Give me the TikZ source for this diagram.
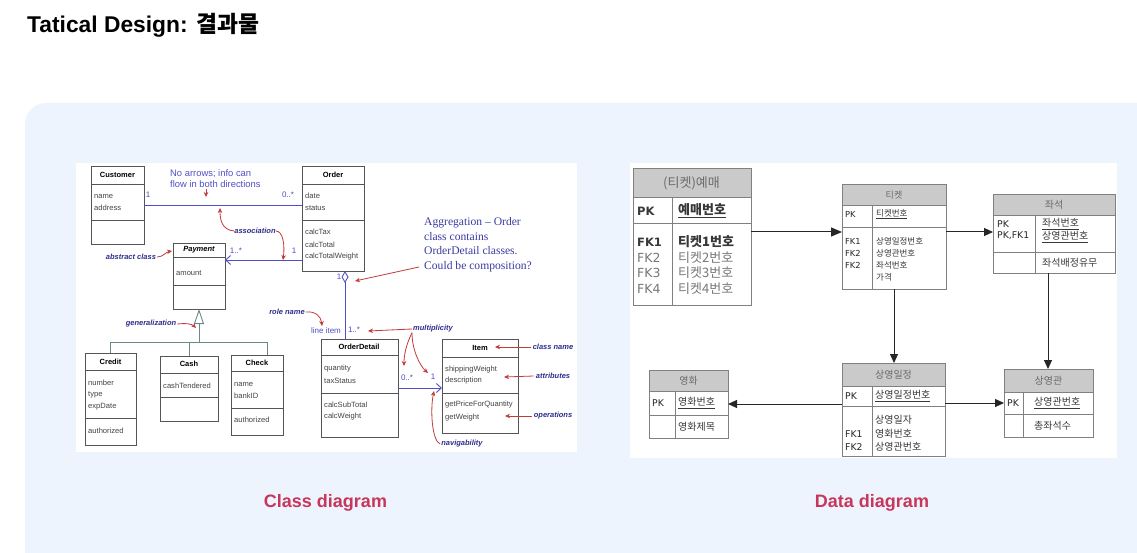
\documentclass[tikz,border=0pt]{standalone}
\usepackage{fontspec}
\setmainfont{Liberation Sans}
\newfontfamily\kr{Noto Sans CJK KR}
\newfontfamily\djv{DejaVu Sans}
\newfontfamily\serifam{Liberation Serif}
\usetikzlibrary{arrows.meta,calc}
\definecolor{panel}{HTML}{EEF4FE}
\definecolor{umlblue}{HTML}{5050C4}
\definecolor{lblue}{HTML}{2E2E8C}
\definecolor{agblue}{HTML}{3A3AA0}
\definecolor{ared}{HTML}{C23A3A}
\definecolor{capred}{HTML}{C8365A}
\definecolor{gencol}{HTML}{6A8A88}
\definecolor{hdr}{HTML}{CACACA}
\definecolor{erline}{HTML}{808080}
\definecolor{boxgray}{HTML}{555555}
\definecolor{txtgray}{HTML}{444444}
\definecolor{ertxt}{HTML}{383838}
\definecolor{erfade}{HTML}{777777}
\definecolor{hdrtxt}{HTML}{6A6A6A}
\newcommand\umlbox[7]{%
  \pgfmathsetmacro\bw{#4-#2}\pgfmathsetmacro\bh{#5-#3}%
  \node[classbox, minimum width=\bw pt, minimum height=\bh pt, anchor=north west] (#1) at (#2,#3) {};
  \draw[classline] (#2,#6) -- (#4,#6) (#2,#7) -- (#4,#7);
}
\newcommand\ertab[8]{%
  \pgfmathsetmacro\bw{#4-#2}\pgfmathsetmacro\bh{#5-#3}%
  \fill[hdr] (#2,#3) rectangle (#4,#6);
  \draw[erl] (#2,#6) -- (#4,#6) (#2,#7) -- (#4,#7) (#8,#6) -- (#8,#5);
  \node[erbox, minimum width=\bw pt, minimum height=\bh pt, anchor=north west] (#1) at (#2,#3) {};
}
\begin{document}
\begin{tikzpicture}[x=1pt,y=-1pt,
  classbox/.style={draw=boxgray, line width=0.8pt, inner sep=0pt, outer sep=0pt},
  classline/.style={draw=boxgray, line width=0.8pt},
  cname/.style={font=\fontsize{7.5}{8}\selectfont\bfseries, inner sep=0pt},
  attr/.style={font=\fontsize{7.6}{8}\selectfont, text=txtgray, anchor=west, inner sep=0pt},
  mult/.style={font=\fontsize{8}{9}\selectfont, text=umlblue, inner sep=0pt},
  note/.style={font=\fontsize{7.5}{8}\selectfont\bfseries\itshape, text=lblue, inner sep=0pt},
  assoc/.style={draw=umlblue, line width=0.9pt},
  opentip/.style={-{Straight Barb[length=5pt,width=9pt,line width=0.9pt]}},
  redarrow/.style={draw=ared, line width=0.8pt, -{Stealth[length=5pt,width=4.5pt]}},
  genline/.style={draw=gencol, line width=0.9pt},
  erbox/.style={draw=erline, line width=0.9pt, inner sep=0pt, outer sep=0pt},
  erl/.style={draw=erline, line width=0.9pt},
  erarrow/.style={draw=black!85, line width=1pt, -{Triangle[length=9pt,width=8pt]}},
  hdrt/.style={font=\kr\fontsize{10}{12}\selectfont, text=hdrtxt, inner sep=0pt},
  ert/.style={font=\kr\fontsize{10}{12}\selectfont, text=ertxt, anchor=west, inner sep=0pt},
  ers/.style={font=\kr\fontsize{8.5}{10}\selectfont, text=ertxt, anchor=west, inner sep=0pt},
  erb/.style={font=\kr\fontsize{13}{15}\selectfont, text=ertxt, anchor=west, inner sep=0pt},
  keyt/.style={font=\djv\fontsize{9.3}{11}\selectfont, text=black!85, anchor=west, inner sep=0pt},
  keys/.style={font=\djv\fontsize{8.3}{10}\selectfont, text=black!85, anchor=west, inner sep=0pt},
  keyb/.style={font=\djv\fontsize{12.5}{15}\selectfont, text=ertxt, anchor=west, inner sep=0pt},
  captext/.style={font=\fontsize{18}{20}\selectfont\bfseries, text=capred, inner sep=0pt}
]
\clip (0,0) rectangle (1137,553);
\fill[white] (0,0) rectangle (1137,553);
\fill[panel, rounded corners=21pt] (25,103) rectangle (1200,640);
\fill[white] (76,163) rectangle (577,452);
\fill[white] (630,163) rectangle (1117,458);

% title
\node[anchor=base west, inner sep=0pt, font=\fontsize{22.8}{26}\selectfont\bfseries] (title) at (27,33) {Tatical Design: {\kr\bfseries 결과물}};

% ===== class diagram =====
\umlbox{cust}{91}{166}{144}{244}{184}{220}
\umlbox{ord}{302}{166}{364}{271}{184}{220}
\umlbox{pay}{173}{243}{225}{309}{257}{285}
\umlbox{cred}{85}{353}{136}{445}{370}{418}
\umlbox{cash}{160}{356}{218}{421}{373}{397}
\umlbox{chk}{231}{355}{283}{435}{371}{408}
\umlbox{od}{321}{339}{398}{437}{355}{393}
\umlbox{item}{442}{339}{518}{433}{357}{393}

\node[cname] (custn) at (117.5,175) {Customer};
\node[attr] (c1) at (94,196) {name};
\node[attr] (c2) at (94,208) {address};
\node[cname] (ordn) at (333,175) {Order};
\node[attr] (o1) at (305,196) {date};
\node[attr] (o2) at (305,208) {status};
\node[attr] (o3) at (305,232) {calcTax};
\node[attr] (o4) at (305,245) {calcTotal};
\node[attr] (o5) at (305,257) {calcTotalWeight};
\node[cname, font=\fontsize{7.5}{8}\selectfont\bfseries\itshape] (payn) at (199,250) {Payment};
\node[attr] (p1) at (176,273) {amount};
\node[cname] (credn) at (110.5,361.5) {Credit};
\node[attr] (cr1) at (88,383) {number};
\node[attr] (cr2) at (88,395) {type};
\node[attr] (cr3) at (88,407) {expDate};
\node[attr] (cr4) at (88,431) {authorized};
\node[cname] (cashn) at (189,364) {Cash};
\node[attr] (ca1) at (163,386) {cashTendered};
\node[cname] (chkn) at (257,363) {Check};
\node[attr] (ch1) at (234,384) {name};
\node[attr] (ch2) at (234,396) {bankID};
\node[attr] (ch3) at (234,420) {authorized};
\node[cname] (odn) at (359,347) {OrderDetail};
\node[attr] (d1) at (324,369) {quantity};
\node[attr] (d2) at (324,381) {taxStatus};
\node[attr] (d3) at (324,405) {calcSubTotal};
\node[attr] (d4) at (324,417) {calcWeight};
\node[cname] (itemn) at (480,348) {Item};
\node[attr] (i1) at (445,370) {shippingWeight};
\node[attr] (i2) at (445,381) {description};
\node[attr] (i3) at (445,405) {getPriceForQuantity};
\node[attr] (i4) at (445,418) {getWeight};

% associations
\draw[assoc] (cust.east) -- (cust.east -| ord.west);
\coordinate (op) at ([yshift=11pt]ord.south west);
\draw[assoc, opentip] (op) -- (op -| pay.east);
\coordinate (agtop) at ([xshift=12pt]ord.south);
\draw[assoc, {Diamond[open,length=12pt,width=7pt,line width=0.9pt]}-] (agtop) -- (agtop |- od.north);
\draw[assoc, opentip] (od.east) -- (od.east -| item.west);
% generalization
\coordinate (gj) at (199,342);
\coordinate (gr) at (267,342);
\draw[genline, -{Triangle[open,length=15pt,width=10pt,line width=0.9pt]}] (gj) -- (pay.south);
\draw[genline] (cred.north) |- (gr) -- (gr |- chk.north);
\draw[genline] (cash.north) -- (cash.north |- gj);

% multiplicities
\node[mult] (m1) at (148,195) {1};
\node[mult] (m2) at (288,195) {0..*};
\node[mult] (m3) at (236,251) {1..*};
\node[mult] (m4) at (294,251) {1};
\node[mult] (m5) at (339,277) {1};
\node[mult] (m6) at (354,330) {1..*};
\node[mult] (m7) at (326,331) {line item};
\node[mult] (m8) at (407,378) {0..*};
\node[mult] (m9) at (433,377) {1};

% notes
\node[anchor=north west, align=left, inner sep=0pt, text=umlblue, font=\fontsize{9.4}{11}\selectfont] (noarr) at (170,169) {No arrows; info can\\flow in both directions};
\node[note] (nassoc) at (255,231) {association};
\node[note] (nabs) at (131,257) {abstract class};
\node[note] (ngen) at (151,324) {generalization};
\node[note] (nrole) at (287,312) {role name};
\node[note] (nmult) at (433,329) {multiplicity};
\node[note] (ncls) at (553,347) {class name};
\node[note] (natt) at (553,376) {attributes};
\node[note] (nops) at (553,416) {operations};
\node[note] (nnav) at (462,444) {navigability};
\node[anchor=north west, align=left, inner sep=0pt, text=agblue, font=\serifam\fontsize{11.6}{14.8}\selectfont] (nagg) at (424,217) {Aggregation – Order\\class contains\\OrderDetail classes.\\Could be composition?};

% red annotation arrows
\coordinate (t1) at (206,197);
\draw[redarrow] (206,189) -- (t1);
\coordinate (t2) at (220,208);
\draw[redarrow] (nassoc.west) .. controls (222,230) and (220,220) .. (t2);
\coordinate (t3) at (283,260);
\draw[redarrow] (nassoc.east) .. controls (283,231) and (285,245) .. (t3);
\coordinate (t4) at (172,251);
\draw[redarrow] ([xshift=1pt]nabs.east) .. controls (163,257) and (166,252) .. (t4);
\coordinate (t5) at (355,281);
\draw[redarrow] (419,267) -- (t5);
\coordinate (t6) at (196,328);
\draw[redarrow] ([xshift=1pt]ngen.east) .. controls (186,323) and (192,324) .. (t6);
\coordinate (t7) at (322,326);
\draw[redarrow] ([xshift=1pt]nrole.east) .. controls (315,311) and (321,316) .. (t7);
\coordinate (t8) at (368,331);
\draw[redarrow] ([xshift=-1pt]nmult.west) -- (t8);
\coordinate (t9) at (404,366);
\draw[redarrow] ([xshift=-1pt]nmult.south west) .. controls (406,345) and (404,355) .. (t9);
\coordinate (t10) at (428,373);
\draw[redarrow] ([xshift=-1pt]nmult.south west) .. controls (412,350) and (420,366) .. (t10);
\coordinate (t11) at (495,347);
\draw[redarrow] ([xshift=-2pt]ncls.west) -- (t11);
\coordinate (t12) at (504,377);
\draw[redarrow] ([xshift=-2pt]natt.west) -- (t12);
\coordinate (t13) at (505,416);
\draw[redarrow] ([xshift=-2pt]nops.west) -- (t13);
\coordinate (t14) at (434,391);
\draw[redarrow] ([xshift=-1pt]nnav.west) .. controls (432,441) and (430,410) .. (t14);

% ===== data diagram =====
\ertab{ye}{633}{168}{751}{305}{197}{223}{672}
\ertab{tk}{842}{184}{946}{289}{205}{227}{872}
\ertab{js}{993}{194}{1115}{273}{215}{252}{1035}
\ertab{sy}{842}{363}{945}{456}{386}{406}{872}
\ertab{sg}{1004}{369}{1093}{437}{392}{414}{1023}
\ertab{yh}{649}{370}{728}{438}{391}{415}{675}

% 예매
\node[hdrt, font=\kr\fontsize{13}{15}\selectfont] (yeh) at (691.5,183) {(티켓)예매};
\node[keyb, font=\djv\bfseries\fontsize{11.5}{15}\selectfont] (yepk) at (637,211) {PK};
\node[erb, font=\kr\fontsize{13}{15}\selectfont\bfseries] (yepkv) at (678,211) {\underline{예매번호}};
\node[keyb, font=\djv\bfseries\fontsize{11.5}{15}\selectfont] (yef1) at (637,242) {FK1};
\node[erb, font=\kr\fontsize{13}{15}\selectfont\bfseries] (yef1v) at (678,242) {티켓1번호};
\node[keyb, text=erfade] (yef2) at (637,257.5) {FK2};
\node[erb, text=erfade] (yef2v) at (678,257.5) {티켓2번호};
\node[keyb, text=erfade] (yef3) at (637,273) {FK3};
\node[erb, text=erfade] (yef3v) at (678,273) {티켓3번호};
\node[keyb, text=erfade] (yef4) at (637,289) {FK4};
\node[erb, text=erfade] (yef4v) at (678,289) {티켓4번호};

% 티켓
\node[hdrt, font=\kr\fontsize{9}{11}\selectfont] (tkh) at (894,195) {티켓};
\node[keys] (tkpk) at (845,214) {PK};
\node[ers] (tkpkv) at (876,214) {\underline{티켓번호}};
\node[keys] (tkf1) at (845,241) {FK1};
\node[keys] (tkf2) at (845,253) {FK2};
\node[keys] (tkf3) at (845,265) {FK2};
\node[ers] (tkv1) at (876,241) {상영일정번호};
\node[ers] (tkv2) at (876,253) {상영관번호};
\node[ers] (tkv3) at (876,265) {좌석번호};
\node[ers] (tkv4) at (876,277) {가격};

% 좌석
\node[hdrt] (jsh) at (1054,204.5) {좌석};
\node[keyt] (jspk) at (997,224) {PK};
\node[keyt] (jspk2) at (997,236) {PK,FK1};
\node[ert] (jsv1) at (1042,224) {\underline{좌석번호}};
\node[ert] (jsv2) at (1042,237) {\underline{상영관번호}};
\node[ert] (jsv3) at (1042,263) {좌석배정유무};

% 상영일정
\node[hdrt] (syh) at (893.5,374.5) {상영일정};
\node[keyt] (sypk) at (845,396) {PK};
\node[ert] (sypkv) at (875,396) {\underline{상영일정번호}};
\node[ert] (syv1) at (875,420) {상영일자};
\node[keyt] (syf1) at (845,434) {FK1};
\node[ert] (syv2) at (875,434) {영화번호};
\node[keyt] (syf2) at (845,447) {FK2};
\node[ert] (syv3) at (875,447) {상영관번호};

% 상영관
\node[hdrt] (sgh) at (1048.5,380.5) {상영관};
\node[keyt] (sgpk) at (1007,403) {PK};
\node[ert] (sgpkv) at (1034,403) {\underline{상영관번호}};
\node[ert] (sgv1) at (1034,426) {총좌석수};

% 영화
\node[hdrt] (yhh) at (688.5,380.5) {영화};
\node[keyt] (yhpk) at (652,403) {PK};
\node[ert] (yhpkv) at (678,403) {\underline{영화번호}};
\node[ert] (yhv1) at (678,427) {영화제목};

% ER connectors
\coordinate (e1) at ([yshift=4.5pt]ye.east);
\draw[erarrow, -{Triangle[length=11pt,width=9pt]}] (e1) -- (e1 -| tk.west);
\coordinate (e2) at ([yshift=4.5pt]tk.east);
\draw[erarrow] (e2) -- (e2 -| js.west);
\coordinate (e3) at ([xshift=-6pt]js.south);
\draw[erarrow] (e3) -- (e3 |- sg.north);
\draw[erarrow] (tk.south) -- (tk.south |- sy.north);
\draw[erarrow] (sg.west -| sy.east) -- (sg.west);
\draw[erarrow] (yh.east -| sy.west) -- (yh.east);

% captions
\node[captext] (cap1) at (325.5,503) {Class diagram};
\node[captext] (cap2) at (872,503) {Data diagram};
\end{tikzpicture}
\end{document}
